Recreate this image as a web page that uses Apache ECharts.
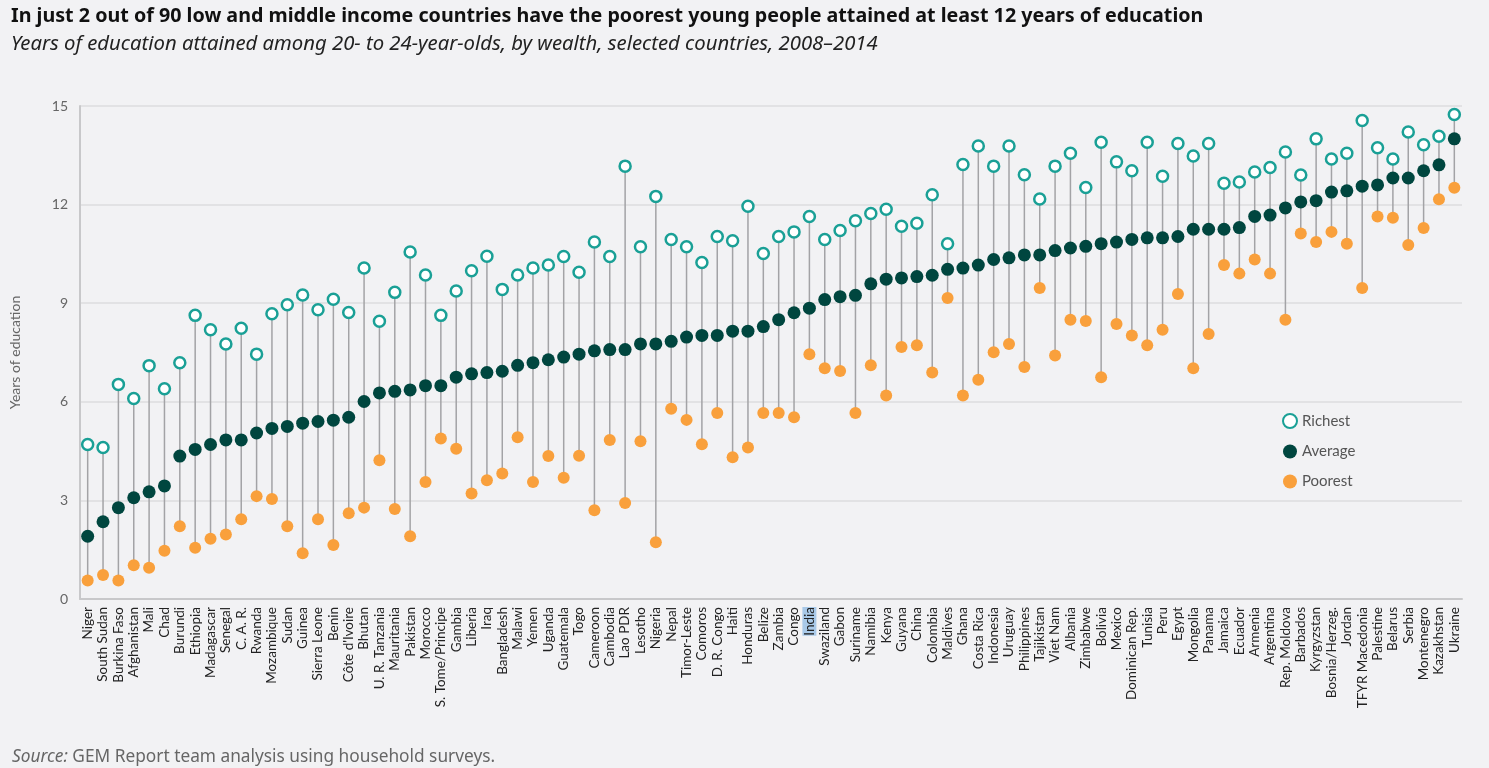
<!DOCTYPE html>
<html>
<head>
<meta charset="utf-8">
<script src="https://cdn.jsdelivr.net/npm/echarts@6/dist/echarts.min.js"></script>
<style>
html,body{margin:0;padding:0;background:#f2f2f4;}
#chart{width:1489px;height:768px;}
</style>
</head>
<body>
<div id="chart"></div>
<script>
const countries = ["Niger","South Sudan","Burkina Faso","Afghanistan","Mali","Chad","Burundi","Ethiopia","Madagascar","Senegal","C. A. R.","Rwanda","Mozambique","Sudan","Guinea","Sierra Leone","Benin","Côte d'Ivoire","Bhutan","U. R. Tanzania","Mauritania","Pakistan","Morocco","S. Tome/Principe","Gambia","Liberia","Iraq","Bangladesh","Malawi","Yemen","Uganda","Guatemala","Togo","Cameroon","Cambodia","Lao PDR","Lesotho","Nigeria","Nepal","Timor-Leste","Comoros","D. R. Congo","Haiti","Honduras","Belize","Zambia","Congo","India","Swaziland","Gabon","Suriname","Namibia","Kenya","Guyana","China","Colombia","Maldives","Ghana","Costa Rica","Indonesia","Uruguay","Philippines","Tajikistan","Viet Nam","Albania","Zimbabwe","Bolivia","Mexico","Dominican Rep.","Tunisia","Peru","Egypt","Mongolia","Panama","Jamaica","Ecuador","Armenia","Argentina","Rep. Moldova","Barbados","Kyrgyzstan","Bosnia/Herzeg.","Jordan","TFYR Macedonia","Palestine","Belarus","Serbia","Montenegro","Kazakhstan","Ukraine"];

const richest = [4.70,4.61,6.53,6.10,7.10,6.40,7.19,8.63,8.19,7.76,8.24,7.45,8.68,8.95,9.25,8.80,9.12,8.72,10.07,8.45,9.33,10.56,9.86,8.63,9.37,9.99,10.43,9.42,9.86,10.07,10.16,10.42,9.94,10.86,10.42,13.17,10.72,12.25,10.94,10.72,10.24,11.03,10.90,11.95,10.51,11.03,11.17,11.64,10.94,11.21,11.51,11.73,11.86,11.34,11.43,12.30,10.81,13.22,13.78,13.17,13.78,12.91,12.17,13.17,13.56,12.52,13.90,13.30,13.03,13.90,12.86,13.86,13.48,13.86,12.65,12.69,12.99,13.13,13.60,12.90,14.00,13.39,13.56,14.56,13.73,13.39,14.21,13.82,14.08,14.74];

const average = [1.91,2.35,2.78,3.08,3.26,3.44,4.35,4.55,4.70,4.84,4.84,5.05,5.19,5.25,5.35,5.40,5.44,5.53,6.01,6.27,6.32,6.36,6.49,6.49,6.75,6.85,6.89,6.93,7.11,7.19,7.28,7.36,7.45,7.55,7.59,7.59,7.76,7.76,7.84,7.97,8.02,8.02,8.15,8.15,8.29,8.50,8.71,8.85,9.11,9.20,9.24,9.59,9.73,9.77,9.81,9.85,10.03,10.07,10.16,10.33,10.38,10.47,10.47,10.60,10.68,10.73,10.81,10.86,10.94,10.99,10.99,11.03,11.25,11.25,11.25,11.30,11.64,11.68,11.90,12.08,12.12,12.38,12.42,12.56,12.60,12.81,12.81,13.03,13.21,14.00];

const poorest = [0.56,0.73,0.56,1.03,0.95,1.47,2.21,1.56,1.83,1.96,2.43,3.13,3.04,2.21,1.39,2.43,1.64,2.61,2.78,4.22,2.74,1.91,3.56,4.88,4.57,3.21,3.61,3.82,4.92,3.56,4.35,3.69,4.36,2.70,4.84,2.92,4.80,1.73,5.79,5.45,4.71,5.66,4.31,4.61,5.66,5.66,5.53,7.45,7.02,6.94,5.66,7.11,6.19,7.67,7.72,6.89,9.16,6.19,6.67,7.51,7.76,7.06,9.46,7.41,8.50,8.46,6.75,8.37,8.02,7.72,8.19,9.28,7.02,8.06,10.16,9.90,10.33,9.90,8.50,11.12,10.86,11.17,10.81,9.46,11.64,11.60,10.77,11.29,12.16,12.51];

const yTicks = [0,3,6,9,12,15];

const FONT = "Lato, 'Noto Sans', sans-serif";
const WIDE = "'Noto Sans', 'Open Sans', sans-serif";
const chart = echarts.init(document.getElementById('chart'), null, {renderer:'canvas'});

const rangeData = countries.map((c,i)=>[i, poorest[i], richest[i]]);

chart.setOption({
  backgroundColor:'#f2f2f4',
  animation:false,
  textStyle:{fontFamily:FONT},
  title:[
    {text:'In just 2 out of 90 low and middle income countries have the poorest young people attained at least 12 years of education',
     left:6, top:1, textStyle:{fontFamily:WIDE, fontSize:19.7, fontWeight:'bold', color:'#111'}},
    {text:'Years of education attained among 20- to 24-year-olds, by wealth, selected countries, 2008–2014',
     left:6, top:29, textStyle:{fontFamily:WIDE, fontSize:20.3, fontStyle:'italic', fontWeight:'normal', color:'#222'}},
    {text:'{i|Source:} GEM Report team analysis using household surveys.',
     left:7, top:744, textStyle:{fontFamily:WIDE, fontSize:17.3, fontWeight:'normal', color:'#666',
       rich:{i:{fontStyle:'italic', fontFamily:WIDE, fontSize:17.3, color:'#666'}}}}
  ],
  legend:{
    orient:'vertical', left:1277, top:408, itemWidth:14, itemHeight:14, itemGap:15,
    textStyle:{fontFamily:FONT, fontSize:15, color:'#555'},
    data:['Richest','Average','Poorest']
  },
  grid:{left:78, right:27, top:106, bottom:169},
  xAxis:{
    type:'category', data:countries, boundaryGap:true,
    axisTick:{show:false},
    axisLine:{lineStyle:{color:'#c8c8ca', width:2}},
    axisLabel:{rotate:90, interval:0, fontFamily:FONT, fontSize:13.5, color:'#222', margin:8,
      formatter:(v)=> v==='India' ? '{hl|India}' : v,
      rich:{hl:{backgroundColor:'#a9c9e8', fontFamily:FONT, fontSize:13.5, color:'#222'}}}
  },
  yAxis:{
    type:'value', min:0, max:15, interval:3,
    name:'Years of education', nameLocation:'middle', nameGap:58,
    nameTextStyle:{fontFamily:FONT, fontSize:14, color:'#666'},
    axisLine:{show:true, lineStyle:{color:'#c8c8ca', width:2}},
    axisTick:{show:false},
    axisLabel:{fontFamily:FONT, fontSize:14, color:'#666', margin:12,
      formatter:(v)=> yTicks.includes(v) ? String(v) : ''},
    splitLine:{lineStyle:{color:'#e2e2e4', width:2}}
  },
  series:[
    {
      type:'custom', name:'range', silent:true, z:1,
      data:rangeData,
      encode:{x:0, y:[1,2]},
      renderItem:(params, api)=>{
        const i = api.value(0);
        const p1 = api.coord([i, api.value(1)]);
        const p2 = api.coord([i, api.value(2)]);
        return {type:'line', shape:{x1:p1[0], y1:p1[1], x2:p2[0], y2:p2[1]},
          style:{stroke:'#a3a3a6', lineWidth:1.5}};
      }
    },
    {type:'scatter', name:'Poorest', data:poorest, symbol:'circle', symbolSize:12, z:3,
      itemStyle:{color:'#f9a03c', opacity:1}},
    {type:'scatter', name:'Average', data:average, symbol:'circle', symbolSize:13, z:4,
      itemStyle:{color:'#00463f', opacity:1}},
    {type:'scatter', name:'Richest', data:richest, symbol:'circle', symbolSize:11, z:5,
      itemStyle:{color:'#ffffff', borderColor:'#1aa096', borderWidth:2.5, opacity:1}}
  ]
});
</script>
</body>
</html>
